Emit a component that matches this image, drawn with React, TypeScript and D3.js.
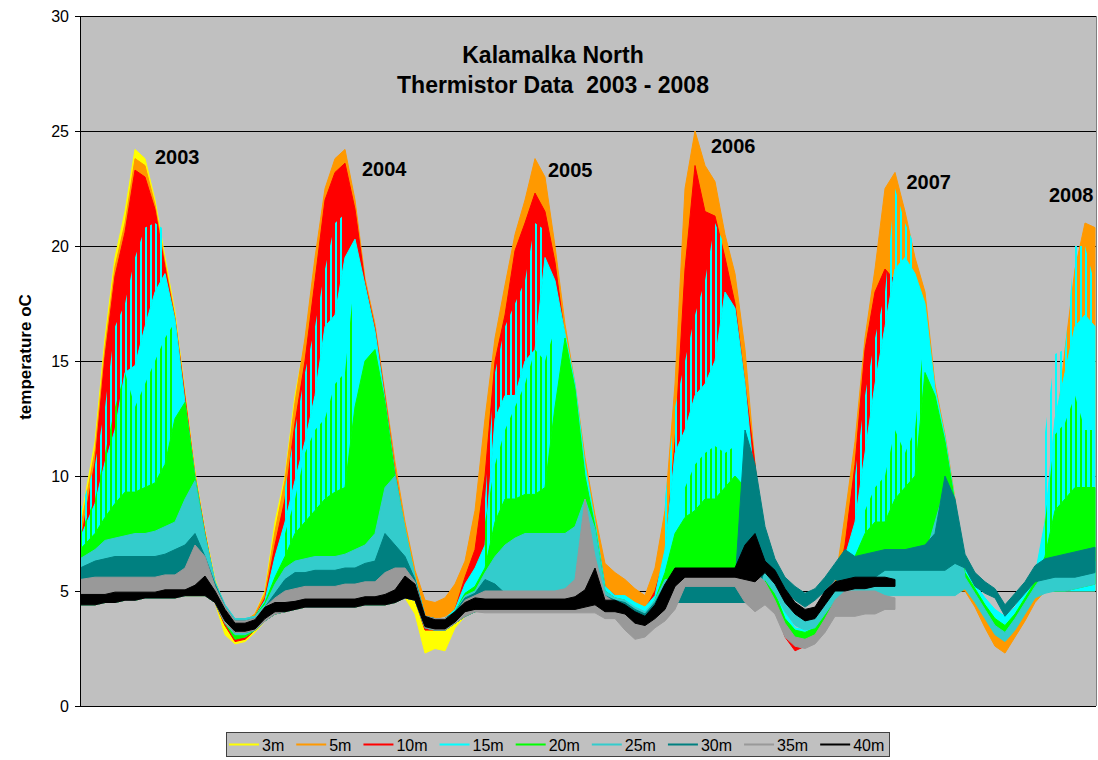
import React from "react";
import * as d3 from "d3";

// ---------- DATA (sample index k = one ~10px slice of the record) ----------
const seriesNames = ["3m", "5m", "10m", "15m", "20m", "25m", "30m", "35m", "40m"];
const seriesColors = ["#FFFF00", "#FF9900", "#FF0000", "#00FFFF", "#00FF00", "#33CCCC", "#008080", "#999999", "#000000"];
const yTicks = [0, 5, 10, 15, 20, 25, 30];
const titleLines = ["Kalamalka North", "Thermistor Data  2003 - 2008"];
const yAxisTitle = "temperature oC";
const yearLabels = ["2003", "2004", "2005", "2006", "2007", "2008"];
const yearLabelIndex = [7.0, 27.7, 46.3, 62.6, 82.15, 96.4];
const yearLabelTemp = [23.57, 23.04, 23.02, 24.04, 22.48, 21.93];

const N6 = [null, null, null, null, null, null];
const N20 = [null, null, null, null, null, null, null, null, null, null, null, null, null, null, null, null, null, null, null, null];
const N22 = [null, null, null, null, null, null, null, null, null, null, null, null, null, null, null, null, null, null, null, null, null, null];

// 3m
const t3mHi = [
  7.9, 11.5, 16.0, 19.5, 21.5, 24.2, 23.8, 22.0, 19.5, 17.1, 13.6, 10.2, 7.6, 5.5,
  4.3, 3.7, 3.7, 4.0, 5.0, 8.0,
  10.0, 13.5, 15.8, 19.3, 22.0, 23.5, 23.8, 21.8, 18.4, 16.4, 13.4, 10.0, 7.6, 5.5,
  3.8, 3.6, 3.6, 4.0, 5.5, 8.0,
  11.5, 15.0, 17.8, 20.0, 21.7, 23.0, 22.5, 19.8, 16.3, 13.8, 10.6, 8.0,
  5.4, 5.0, 4.8, 4.7, 4.4, 5.4, 7.8, 11.0,
  ...N22, ...N20,
];
const t3mLo = [
  4.4, 4.4, 4.5, 4.5, 4.6, 4.6, 4.7, 4.7, 4.7, 4.7, 4.8, 4.8, 4.8, 4.5,
  3.1, 2.7, 2.8, 3.2, 3.7, 4.0,
  4.1, 4.2, 4.3, 4.3, 4.3, 4.3, 4.3, 4.3, 4.4, 4.4, 4.4, 4.5, 4.7, 4.0,
  2.3, 2.5, 2.4, 3.4, 3.9, 4.1,
  4.2, 4.2, 4.2, 4.2, 4.2, 4.2, 4.2, 4.2, 4.2, 4.2, 4.3, 4.4,
  4.1, 4.1, 4.0, 3.7, 3.6, 3.8, 4.2, 5.2,
  ...N22, ...N20,
];
// 5m
const t5mHi = [
  7.6, 11.1, 15.6, 19.1, 21.0, 23.8, 23.5, 21.8, 19.3, 16.9, 13.5, 10.1, 7.5, 5.4,
  4.3, 3.7, 3.7, 4.0, 4.9, 7.6,
  9.8, 13.2, 16.0, 19.5, 22.5, 23.8, 24.2, 22.0, 18.6, 16.6, 13.6, 10.6, 8.0, 5.9,
  4.6, 4.5, 4.7, 5.3, 6.3, 8.5,
  12.5, 16.0, 18.3, 20.5, 22.0, 23.8, 23.0, 20.0, 16.6, 14.0, 10.8, 8.3,
  6.2, 5.8, 5.5, 5.1, 4.8, 6.0, 8.5, 14.0,
  22.5, 25.0, 23.5, 22.8, 20.5, 18.8, 15.5, 10.5,
  6.1, 5.0, 3.9, 3.2, 3.2, 3.4, 4.3, 5.3,
  8.3, 11.5, 16.0, 19.0, 22.5, 23.2,
  21.5, 19.5, 18.0, 14.0, 11.8, 9.0, 5.4, 4.9, 4.0, 3.2, 2.9, 3.5, 4.2, 5.0, 8.0, 11.5, 15.5, 19.0, 21.0, 20.8,
];
const t5mLo = [
  4.4, 4.4, 4.5, 4.5, 4.6, 4.6, 4.7, 4.7, 4.7, 4.7, 4.8, 4.8, 4.8, 4.5,
  3.5, 2.9, 2.9, 3.3, 3.7, 4.0,
  4.1, 4.2, 4.3, 4.3, 4.3, 4.3, 4.3, 4.3, 4.4, 4.4, 4.4, 4.5, 4.7, 4.6,
  3.8, 3.8, 3.9, 4.2, 4.5, 4.1,
  4.2, 4.2, 4.2, 4.2, 4.2, 4.2, 4.2, 4.2, 4.2, 4.2, 4.3, 4.4,
  5.0, 4.7, 4.6, 4.4, 4.1, 3.8, 4.2, 5.2,
  5.5, 5.5, 5.5, 5.5, 5.5, 5.5, 5.5, 5.5,
  5.2, 4.4, 3.2, 2.7, 2.8, 3.0, 3.8, 4.7,
  4.8, 5.0, 5.0, 5.0, 5.0, 5.0,
  5.0, 5.0, 5.0, 5.0, 5.0, 5.0, 5.0, 4.3, 3.4, 2.6, 2.3, 3.0, 3.7, 4.5, 5.0, 5.0, 5.0, 5.0, 5.0, 5.0,
];
// 10m
const t10mHi = [
  7.0, 10.6, 15.2, 18.7, 20.6, 23.3, 23.0, 21.6, 19.1, 16.8, 13.4, 10.0, 7.5, 5.3,
  4.2, 3.7, 3.6, 3.9, 4.7, 7.0,
  9.0, 12.3, 15.0, 18.5, 22.0, 23.2, 23.6, 21.6, 18.4, 16.4, 13.4, 10.2, 7.6, 5.5,
  3.9, 3.8, 3.8, 4.2, 5.6, 6.8,
  10.0, 15.0, 17.0, 19.8, 21.0, 22.3, 21.5, 19.3, 16.0, 13.7, 10.3, 7.9,
  5.2, 4.8, 4.7, 4.4, 4.2, 5.0, 6.5, 11.5,
  19.0, 23.5, 21.5, 21.3, 19.5, 17.5, 14.0, 10.5,
  5.9, 4.9, 3.5, 3.0, 3.0, 3.2, 4.1, 5.0,
  7.0, 10.5, 15.5, 18.0, 19.0, 18.5,
  ...N20,
];
const t10mLo = [
  4.4, 4.4, 4.5, 4.5, 4.6, 4.6, 4.7, 4.7, 4.7, 4.7, 4.8, 4.8, 4.8, 4.5,
  3.5, 2.8, 2.9, 3.3, 3.7, 4.0,
  4.1, 4.2, 4.3, 4.3, 4.3, 4.3, 4.3, 4.3, 4.4, 4.4, 4.4, 4.5, 4.7, 4.6,
  3.3, 3.3, 3.3, 3.6, 3.9, 4.1,
  4.2, 4.2, 4.2, 4.2, 4.2, 4.2, 4.2, 4.2, 4.2, 4.2, 4.3, 4.4,
  4.1, 4.1, 4.0, 3.6, 3.5, 3.8, 4.2, 5.2,
  5.5, 5.5, 5.5, 5.5, 5.5, 5.5, 5.5, 5.5,
  5.2, 4.4, 3.0, 2.4, 2.6, 2.8, 3.7, 4.6,
  4.8, 5.0, 5.0, 5.0, 5.0, 5.0,
  ...N20,
];
// 15m
const t15mHi = [
  7.3, 8.8, 10.6, 12.0, 14.5, 14.8, 16.5, 18.0, 18.8, 16.8, 13.2, 10.0, 7.4, 5.4,
  4.4, 3.8, 3.8, 3.9, 4.6, 6.5,
  8.0, 9.8, 11.5, 13.5, 16.5, 17.0, 19.5, 20.3, 18.3, 16.3, 13.3, 10.1, 7.7, 5.6,
  3.9, 3.8, 3.8, 4.2, 5.3, 6.0,
  7.0, 12.5, 13.5, 13.5, 15.0, 15.5, 19.5, 18.5, 16.2, 14.0, 10.5, 8.0,
  5.2, 4.8, 4.8, 4.5, 4.3, 4.8, 6.8, 11.0,
  12.0, 13.5, 14.0, 15.0, 18.0, 17.3, 14.0, 9.5,
  6.0, 5.0, 4.1, 3.4, 3.3, 3.5, 4.2, 5.0,
  6.5, 8.0, 11.0, 14.0, 16.5, 19.0,
  19.5, 18.8, 17.5, 13.8, 11.7, 8.9, 6.0, 5.3, 4.7, 4.2, 3.9, 4.3, 5.0, 5.7, 8.0, 12.5, 14.5, 16.5, 17.0, 16.5,
];
const t15mLo = [
  4.4, 4.4, 4.5, 4.5, 4.6, 4.6, 4.7, 4.7, 4.7, 4.7, 4.8, 4.8, 4.8, 4.5,
  3.6, 3.0, 3.0, 3.3, 3.7, 4.0,
  4.1, 4.2, 4.3, 4.3, 4.3, 4.3, 4.3, 4.3, 4.4, 4.4, 4.4, 4.5, 4.7, 4.6,
  3.4, 3.3, 3.3, 3.6, 3.9, 4.1,
  4.2, 4.2, 4.2, 4.2, 4.2, 4.2, 4.2, 4.2, 4.2, 4.2, 4.3, 4.4,
  4.1, 4.1, 4.0, 3.6, 3.5, 3.8, 4.2, 5.2,
  5.5, 5.5, 5.5, 5.5, 5.5, 5.5, 5.5, 5.5,
  5.3, 4.5, 3.4, 2.9, 2.9, 3.1, 3.7, 4.6,
  4.8, 5.0, 5.0, 5.0, 5.0, 5.0,
  5.0, 5.0, 5.0, 5.0, 5.0, 5.0, 5.6, 4.9, 4.3, 3.8, 3.4, 3.8, 4.6, 5.2, 5.0, 5.0, 5.0, 5.0, 5.0, 5.0,
];
// 15m highest short excursions per slice (spiky fringe above the dense band)
const t15mPeak = [
  8.5, 10.5, 13.0, 16.5, 17.5, 19.5, 20.8, 21.0, 20.7, null, null, null, null, null,
  ...N6,
  9.5, 12.0, 14.5, 16.5, 19.0, 21.0, 21.4, null, null, null, null, null, null, null,
  ...N6,
  9.0, 14.5, 16.5, 17.5, 18.5, 21.0, 20.7, null, null, null, null, null,
  null, null, null, null, null, null, 9.0, 13.0,
  15.0, 17.0, 18.5, 21.0, 20.0, null, null, null,
  null, null, null, null, null, null, null, null,
  null, 10.0, 13.5, 16.0, 18.0, 22.5,
  21.0, 20.0, null, null, null, null, null, null, null, null, null, null, null, null, 11.9, 15.3, 15.5, 20.0, 20.0, 18.3,
];
// 20m
const t20mHi = [
  6.8, 7.5, 8.2, 8.8, 9.3, 9.3, 9.5, 9.7, 10.5, 12.5, 13.2, 9.9, 7.4, 5.3,
  4.3, 3.7, 3.7, 3.9, 4.5, 5.6,
  6.5, 7.5, 8.0, 8.5, 9.0, 9.3, 9.5, 13.0, 15.0, 15.5, 13.2, 10.0, 7.6, 5.5,
  3.8, 3.8, 3.8, 4.1, 4.9, 5.2,
  6.0, 8.0, 9.0, 9.0, 9.2, 9.2, 9.5, 13.0, 16.0, 13.8, 10.0, 7.8,
  5.0, 4.7, 4.6, 4.2, 4.0, 4.6, 5.8, 7.5,
  8.2, 8.5, 9.0, 9.0, 9.5, 10.0, 9.5, 8.0,
  5.9, 4.9, 3.8, 3.3, 3.2, 3.4, 4.1, 4.9,
  6.0, 6.5, 7.5, 8.0, 8.0, 9.0,
  9.5, 10.0, 14.5, 13.5, 11.5, 8.8, 5.8, 5.1, 4.4, 3.8, 3.5, 4.0, 4.7, 5.4, 6.5, 8.5, 9.0, 9.5, 9.5, 9.5,
];
const t20mLo = [
  4.4, 4.4, 4.5, 4.5, 4.6, 4.6, 4.7, 4.7, 4.7, 4.7, 4.8, 4.8, 4.8, 4.5,
  3.6, 2.9, 3.0, 3.3, 3.7, 4.0,
  4.1, 4.2, 4.3, 4.3, 4.3, 4.3, 4.3, 4.3, 4.4, 4.4, 4.4, 4.5, 4.7, 4.6,
  3.4, 3.3, 3.3, 3.6, 3.9, 4.1,
  4.2, 4.2, 4.2, 4.2, 4.2, 4.2, 4.2, 4.2, 4.2, 4.2, 4.3, 4.4,
  4.1, 4.1, 4.0, 3.6, 3.5, 3.8, 4.2, 5.2,
  5.5, 5.5, 5.5, 5.5, 5.5, 5.5, 5.5, 5.5,
  5.3, 4.5, 3.2, 2.9, 2.9, 3.1, 3.7, 4.5,
  4.8, 5.0, 5.0, 5.0, 5.0, 5.0,
  5.2, 5.2, 5.2, 5.2, 5.2, 5.2, 5.4, 4.7, 4.1, 3.4, 3.1, 3.6, 4.3, 5.0, 5.0, 5.0, 5.0, 5.1, 5.2, 5.3,
];
const t20mPeak = [
  7.5, 9.0, 11.0, 13.0, 14.5, 13.0, 14.0, 15.0, 16.0, 16.7, null, null, null, null,
  ...N6,
  7.5, 9.0, 11.0, 12.0, 12.5, 14.0, 14.5, 18.8, null, null, null, null, null, null,
  ...N6,
  8.0, 10.5, 12.0, 13.0, 14.0, 15.5, 15.0, 16.4, null, null, null, null,
  null, null, null, null, null, null, null, null,
  9.5, 10.5, 11.0, 11.3, 11.0, 11.3, null, null,
  null, null, null, null, null, null, null, null,
  null, null, 8.5, 9.5, 10.0, 12.0,
  11.0, 12.0, 16.4, null, null, null, null, null, null, null, null, null, null, null, 8.0, 11.8, 12.3, 13.5, 12.0, 12.0,
];
// 25m
const t25mHi = [
  6.4, 6.8, 7.2, 7.3, 7.4, 7.5, 7.5, 7.6, 7.8, 8.0, 9.0, 9.8, 7.4, 5.4,
  4.4, 3.8, 3.8, 3.9, 4.4, 5.3,
  6.0, 6.3, 6.4, 6.5, 6.5, 6.5, 6.6, 6.8, 7.0, 7.5, 9.5, 10.0, 7.7, 5.6,
  3.9, 3.8, 3.8, 4.1, 4.8, 5.0,
  5.8, 6.5, 7.0, 7.3, 7.5, 7.5, 7.5, 7.5, 7.5, 7.8, 9.0, 7.7,
  5.0, 4.7, 4.6, 4.3, 4.1, 4.6, 5.5, 5.5,
  5.5, 5.5, 5.5, 5.5, 5.5, 5.5, 5.5, 7.0,
  6.2, 5.4, 4.6, 4.0, 3.7, 3.8, 4.5, 5.1,
  6.0, 6.2, 6.3, 6.4, 6.2, 6.3,
  6.3, 6.4, 6.5, 8.0, 9.5, 8.8, 5.6, 4.9, 4.2, 3.5, 3.2, 3.8, 4.5, 5.2, 5.8, 6.0, 6.0, 6.1, 6.2, 6.3,
];
const t25mLo = [
  4.4, 4.4, 4.5, 4.5, 4.6, 4.6, 4.7, 4.7, 4.7, 4.7, 4.8, 4.8, 4.8, 4.5,
  3.6, 3.1, 3.1, 3.3, 3.7, 4.0,
  4.1, 4.2, 4.3, 4.3, 4.3, 4.3, 4.3, 4.3, 4.4, 4.4, 4.4, 4.5, 4.7, 4.6,
  3.4, 3.3, 3.3, 3.6, 3.9, 4.1,
  4.2, 4.2, 4.2, 4.2, 4.2, 4.2, 4.2, 4.2, 4.2, 4.2, 4.3, 4.4,
  4.1, 4.1, 4.0, 3.6, 3.5, 3.8, 4.2, 4.8,
  4.8, 4.8, 4.8, 4.8, 4.8, 4.8, 4.8, 4.8,
  5.5, 4.9, 4.1, 3.5, 3.3, 3.4, 4.0, 4.6,
  4.9, 5.0, 5.0, 5.0, 4.8, 4.8,
  4.8, 4.8, 4.8, 4.8, 4.8, 4.8, 5.1, 4.5, 3.8, 3.1, 2.8, 3.3, 4.0, 4.7, 4.9, 5.0, 5.0, 5.1, 5.2, 5.3,
];
// 30m
const t30mHi = [
  6.0, 6.3, 6.4, 6.5, 6.5, 6.5, 6.5, 6.5, 6.6, 6.8, 7.0, 7.5, 6.5, 5.3,
  4.3, 3.7, 3.7, 3.8, 4.3, 4.9,
  5.5, 5.8, 5.8, 5.9, 5.9, 5.9, 6.0, 6.0, 6.2, 6.3, 7.5, 7.0, 6.5, 5.5,
  3.9, 3.8, 3.8, 4.1, 4.7, 4.9,
  5.5, 5.3, 4.9, 4.9, 4.9, 4.9, 4.9, 4.9, 4.9, 4.9, 4.9, 5.5,
  4.8, 4.6, 4.5, 4.2, 4.0, 4.5, 5.3, 5.3,
  5.3, 5.3, 5.3, 5.3, 5.3, 5.3, 12.0, 10.5,
  7.8, 6.4, 5.6, 5.2, 4.9, 5.1, 5.6, 6.2,
  6.8, 6.5, 6.6, 6.7, 6.8, 6.8,
  6.8, 6.9, 7.0, 7.5, 10.0, 9.0, 6.6, 5.8, 5.4, 5.1, 4.4, 4.9, 5.4, 6.1, 6.4, 6.5, 6.6, 6.7, 6.8, 6.9,
];
const t30mLo = [
  4.4, 4.4, 4.5, 4.5, 4.6, 4.6, 4.7, 4.7, 4.7, 4.7, 4.8, 4.8, 4.8, 4.5,
  3.6, 3.2, 3.2, 3.3, 3.7, 4.0,
  4.1, 4.2, 4.3, 4.3, 4.3, 4.3, 4.3, 4.3, 4.4, 4.4, 4.4, 4.5, 4.7, 4.6,
  3.4, 3.3, 3.3, 3.6, 3.9, 4.1,
  4.2, 4.2, 4.2, 4.2, 4.2, 4.2, 4.2, 4.2, 4.2, 4.2, 4.3, 4.4,
  4.1, 4.1, 4.0, 3.6, 3.5, 3.8, 4.2, 4.5,
  4.5, 4.5, 4.5, 4.5, 4.5, 4.5, 4.5, 4.5,
  6.0, 5.6, 5.0, 4.6, 4.3, 4.6, 5.0, 5.5,
  5.3, 5.5, 5.6, 5.6, 5.9, 5.9,
  5.9, 5.9, 5.9, 5.9, 5.9, 6.2, 6.0, 5.2, 4.9, 4.7, 3.9, 4.4, 4.9, 5.4, 5.5, 5.6, 5.6, 5.6, 5.7, 5.8,
];
// 35m
const t35mHi = [
  5.5, 5.6, 5.6, 5.6, 5.6, 5.6, 5.6, 5.6, 5.7, 5.7, 6.0, 7.0, 6.5, 5.2,
  4.3, 3.7, 3.7, 3.8, 4.3, 4.7,
  5.0, 5.1, 5.2, 5.2, 5.2, 5.2, 5.3, 5.3, 5.4, 5.4, 5.8, 6.0, 6.0, 5.4,
  3.9, 3.8, 3.8, 4.0, 4.6, 4.8,
  5.0, 5.0, 5.0, 5.0, 5.0, 5.0, 5.0, 5.0, 5.1, 5.5, 9.0, 6.5,
  4.8, 4.5, 4.0, 3.8, 3.6, 4.0, 4.6, 5.4,
  5.8, 5.8, 5.8, 5.8, 5.8, 5.8, 6.0, 5.8,
  5.4, 4.6, 3.6, 3.0, 2.9, 3.1, 3.8, 4.6,
  5.0, 5.0, 5.0, 5.0, 4.8, 4.7,
  ...N20,
];
const t35mLo = [
  4.4, 4.4, 4.5, 4.5, 4.6, 4.6, 4.7, 4.7, 4.7, 4.7, 4.8, 4.8, 4.8, 4.5,
  3.6, 3.2, 3.2, 3.3, 3.7, 4.0,
  4.1, 4.2, 4.3, 4.3, 4.3, 4.3, 4.3, 4.3, 4.4, 4.4, 4.4, 4.5, 4.7, 4.6,
  3.4, 3.3, 3.3, 3.6, 3.9, 4.1,
  4.05, 4.05, 4.05, 4.05, 4.05, 4.05, 4.05, 4.05, 4.05, 4.05, 4.05, 4.05,
  3.8, 3.8, 3.3, 2.9, 3.0, 3.4, 3.7, 4.2,
  5.2, 5.2, 5.2, 5.2, 5.2, 5.2, 4.5, 4.1,
  4.4, 4.0, 3.0, 2.6, 2.5, 2.7, 3.2, 3.9,
  3.9, 3.9, 4.0, 4.0, 4.2, 4.2,
  ...N20,
];
// 40m
const t40mHi = [
  4.85, 4.85, 4.85, 4.95, 4.95, 4.95, 4.95, 4.95, 5.05, 5.05, 5.05, 5.25, 5.65, 5.0,
  4.2, 3.6, 3.6, 3.75, 4.3, 4.5,
  4.5, 4.55, 4.65, 4.65, 4.65, 4.65, 4.65, 4.65, 4.75, 4.75, 4.85, 5.05, 5.65, 5.3,
  3.9, 3.75, 3.75, 4.1, 4.5, 4.7,
  4.65, 4.65, 4.65, 4.65, 4.65, 4.65, 4.65, 4.65, 4.65, 4.75, 5.05, 6.0,
  4.6, 4.6, 4.4, 4.1, 3.9, 4.4, 5.3, 6.0,
  6.0, 6.0, 6.0, 6.0, 6.0, 6.0, 7.0, 7.5,
  6.3, 5.9, 5.1, 4.5, 4.2, 4.3, 5.0, 5.4,
  5.5, 5.6, 5.6, 5.6, 5.6, 5.5,
  ...N20,
];
const t40mLo = [
  4.4, 4.4, 4.5, 4.5, 4.6, 4.6, 4.7, 4.7, 4.7, 4.7, 4.8, 4.8, 4.8, 4.5,
  3.7, 3.25, 3.25, 3.35, 3.8, 4.1,
  4.1, 4.2, 4.3, 4.3, 4.3, 4.3, 4.3, 4.3, 4.4, 4.4, 4.4, 4.5, 4.7, 4.6,
  3.45, 3.35, 3.35, 3.65, 4.1, 4.2,
  4.2, 4.2, 4.2, 4.2, 4.2, 4.2, 4.2, 4.2, 4.2, 4.2, 4.3, 4.4,
  4.1, 4.1, 4.0, 3.6, 3.5, 3.8, 4.2, 5.2,
  5.6, 5.6, 5.6, 5.6, 5.6, 5.6, 5.5, 5.4,
  5.8, 5.3, 4.5, 4.0, 3.7, 3.8, 4.4, 5.0,
  5.0, 5.1, 5.1, 5.2, 5.2, 5.2,
  ...N20,
];

const seriesHi = [t3mHi, t5mHi, t10mHi, t15mHi, t20mHi, t25mHi, t30mHi, t35mHi, t40mHi];
const seriesLo = [t3mLo, t5mLo, t10mLo, t15mLo, t20mLo, t25mLo, t30mLo, t35mLo, t40mLo];
// spiky fringe above the dense band, drawn right after its own series: [seriesIndex, peaks]
const seriesPeaks: [number, (number | null)[]][] = [
  [3, t15mPeak],
  [4, t20mPeak],
];

// ---------- LAYOUT ----------
const W = 1098;
const H = 760;
const PL = 80, PR = 1096, PT = 16, PB = 706;
const FONT = "'Liberation Sans', Arial, Helvetica, sans-serif";

export default function App() {
  const nSamples = t5mHi.length;
  const x = d3.scaleLinear().domain([-0.5, nSamples - 0.9]).range([PL, PR]);
  const y = d3.scaleLinear().domain([0, 30]).range([PB, PT]);
  const idx = d3.range(nSamples);
  const xi = (i: number) => (i === 0 ? x(-0.5) : x(i));

  const layers = seriesNames.map((name, s) => {
    const hi = seriesHi[s];
    const lo = seriesLo[s];
    const gen = d3
      .area<number>()
      .defined((i) => hi[i] != null && lo[i] != null)
      .x(xi)
      .y0((i) => y(lo[i] as number))
      .y1((i) => y(hi[i] as number))
      .curve(d3.curveLinear);
    const peakEntry = seriesPeaks.find((p) => p[0] === s);
    let fringe = "";
    if (peakEntry) {
      const pk = peakEntry[1];
      const fgen = d3
        .area<number>()
        .defined((i) => pk[i] != null && hi[i] != null)
        .x(xi)
        .y0((i) => y(hi[i] as number))
        .y1((i) => y(pk[i] as number))
        .curve(d3.curveLinear);
      fringe = fgen(idx) || "";
    }
    return { name, s, color: seriesColors[s], d: gen(idx) || "", fringe };
  });

  // legend layout
  const legendFont = 16;
  const charW: Record<string, number> = { m: 0.833 };
  const textW = (t: string) => t.split("").reduce((a, c) => a + (charW[c] || 0.556), 0) * legendFont;
  let lx = 229;
  const legendItems = seriesNames.map((name, s) => {
    const item = { name, color: seriesColors[s], x: lx };
    lx += 30 + 3 + textW(name) + 12;
    return item;
  });

  return (
    <svg
      width={W}
      height={H}
      style={{ position: "absolute", left: 0, top: 0, background: "#ffffff" }}
      fontFamily={FONT}
    >
      <defs>
        <clipPath id="plotClip">
          <rect x={PL} y={PT} width={PR - PL} height={PB - PT} />
        </clipPath>
        {seriesColors.map((c, s) => (
          <pattern key={s} id={"spk" + s} patternUnits="userSpaceOnUse" width={5} height={7}>
            <rect x={0} y={0} width={2} height={7} fill={c} />
          </pattern>
        ))}
      </defs>
      <rect x={PL} y={PT} width={PR - PL} height={PB - PT} fill="#C0C0C0" />
      {yTicks.filter((t) => t > 0).map((t) => (
        <line key={"g" + t} x1={PL} x2={PR} y1={y(t)} y2={y(t)} stroke="#000" strokeWidth={1} shapeRendering="crispEdges" />
      ))}
      <g clipPath="url(#plotClip)">
        {layers.map((a) => (
          <g key={a.name}>
            <path d={a.d} fill={a.color} stroke={a.color} strokeWidth={1} strokeLinejoin="round" />
            {a.fringe ? <path d={a.fringe} fill={`url(#spk${a.s})`} stroke="none" /> : null}
          </g>
        ))}
      </g>
      {/* axes */}
      <line x1={PL} x2={PL} y1={PT} y2={PB} stroke="#000" strokeWidth={1} shapeRendering="crispEdges" />
      <line x1={PL} x2={PR} y1={PB} y2={PB} stroke="#000" strokeWidth={1} shapeRendering="crispEdges" />
      <line x1={PR} x2={PR} y1={PT} y2={PB} stroke="#808080" strokeWidth={1} shapeRendering="crispEdges" />
      {yTicks.map((t) => (
        <g key={"t" + t}>
          <line x1={PL - 5} x2={PL} y1={y(t)} y2={y(t)} stroke="#000" shapeRendering="crispEdges" />
          <text x={69} y={y(t) + 6} textAnchor="end" fontSize={16} fill="#000">
            {t}
          </text>
        </g>
      ))}
      <text
        transform={`translate(${27},${357}) rotate(-90)`}
        textAnchor="middle"
        fontSize={17}
        fontWeight="bold"
        fill="#000"
        dominantBaseline="middle"
      >
        {yAxisTitle}
      </text>
      {/* title */}
      {titleLines.map((t, i) => (
        <text key={t} x={553} y={63 + i * 30} textAnchor="middle" fontSize={23} fontWeight="bold" fill="#000" style={{ whiteSpace: "pre" }}>
          {t}
        </text>
      ))}
      {/* year labels */}
      {yearLabels.map((t, i) => (
        <text key={t} x={x(yearLabelIndex[i])} y={y(yearLabelTemp[i])} fontSize={20} fontWeight="bold" fill="#000">
          {t}
        </text>
      ))}
      {/* legend */}
      <rect x={226} y={732.5} width={663} height={24} fill="#C0C0C0" stroke="#404040" strokeWidth={1} shapeRendering="crispEdges" />
      {legendItems.map((it) => (
        <g key={it.name}>
          <line x1={it.x} x2={it.x + 30} y1={744.5} y2={744.5} stroke={it.color} strokeWidth={2} />
          <text x={it.x + 33} y={750.5} fontSize={legendFont} fill="#000">
            {it.name}
          </text>
        </g>
      ))}
    </svg>
  );
}
